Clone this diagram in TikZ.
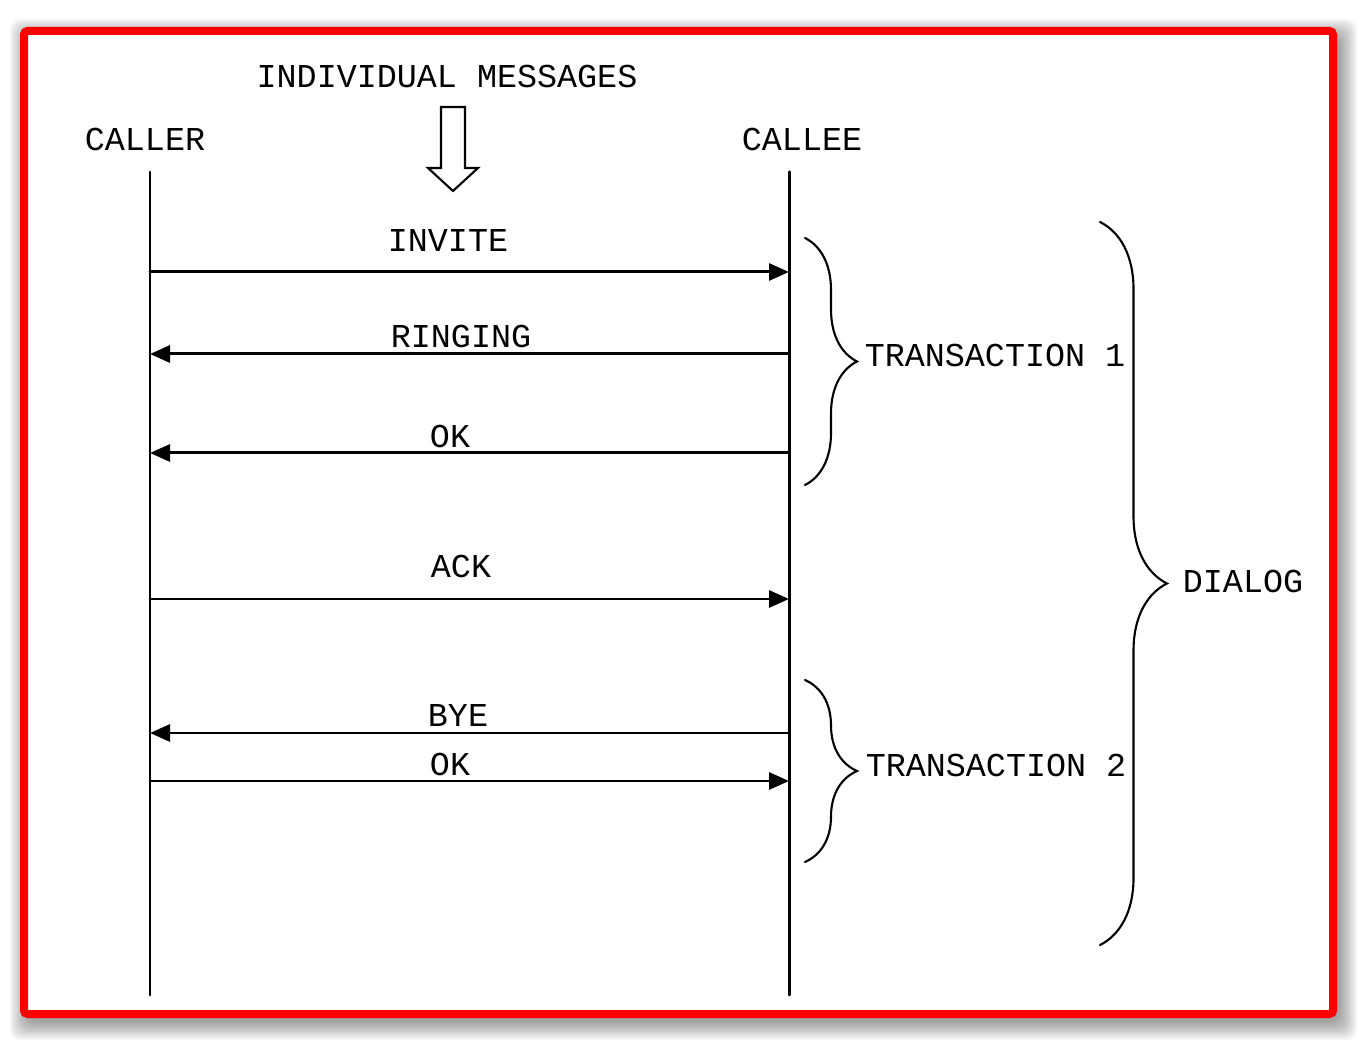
\documentclass[tikz,border=0pt]{standalone}
\usepackage{fontspec}
\setmonofont{Liberation Mono}
\usetikzlibrary{arrows.meta,decorations.pathreplacing}

\begin{document}
\begin{tikzpicture}[>={Triangle[length=2mm,width=1.7mm]},font=\ttfamily\fontsize{9.5}{11}\selectfont,
  line cap=round,
  lifeline/.style={line width=0.85pt},
  msg/.style={->,line width=0.85pt},
  brc/.style={line width=0.6pt,decorate,decoration={brace,amplitude=#1,aspect=0.5}},
  lbl/.style={inner sep=0pt}]
\useasboundingbox (0,0) rectangle (13.66,10.48);
% shadow and frame
\foreach \i in {1,...,16}
  \fill[black,opacity=0.026,rounded corners=3pt] (0.24+0.05-\i*0.012,0.34-0.07-\i*0.012) rectangle (13.33+0.05+\i*0.012,10.17-0.07+\i*0.012);
\fill[white] (0.24,0.34) rectangle (13.33,10.17);
\draw[red,line width=0.08cm,rounded corners=1pt] (0.24,0.34) rectangle (13.33,10.17);

\node[lbl] (msgs) at (4.47,9.71) {INDIVIDUAL MESSAGES};
\draw[line width=0.6pt] (4.41,9.41) -- (4.65,9.41) -- (4.65,8.80) -- (4.78,8.80) -- (4.53,8.57) -- (4.28,8.80) -- (4.41,8.80) -- cycle;

\node[lbl] (caller) at (1.45,9.08) {CALLER};
\node[lbl] (callee) at (8.02,9.08) {CALLEE};
\coordinate (er-top) at (1.50,8.76);
\coordinate (er-bot) at (1.50,0.53);
\coordinate (ee-top) at (7.89,8.76);
\coordinate (ee-bot) at (7.89,0.53);
\draw[lifeline] (er-top) -- (er-bot);
\draw[lifeline] (ee-top) -- (ee-bot);

% messages
\coordinate (er1) at (1.50,7.76); \coordinate (ee1) at (7.89,7.76);
\coordinate (er2) at (1.50,6.94); \coordinate (ee2) at (7.89,6.94);
\coordinate (er3) at (1.50,5.95); \coordinate (ee3) at (7.89,5.95);
\coordinate (er4) at (1.50,4.49); \coordinate (ee4) at (7.89,4.49);
\coordinate (er5) at (1.50,3.15); \coordinate (ee5) at (7.89,3.15);
\coordinate (er6) at (1.50,2.67); \coordinate (ee6) at (7.89,2.67);
\draw[msg] (er1) -- (ee1);
\draw[msg] (ee2) -- (er2);
\draw[msg] (ee3) -- (er3);
\draw[msg] (er4) -- (ee4);
\draw[msg] (ee5) -- (er5);
\draw[msg] (er6) -- (ee6);
\node[lbl] (invite) at (4.48,8.07) {INVITE};
\node[lbl] (ringing) at (4.61,7.11) {RINGING};
\node[lbl] (ok1) at (4.50,6.11) {OK};
\node[lbl] (ack) at (4.61,4.81) {ACK};
\node[lbl] (bye) at (4.58,3.32) {BYE};
\node[lbl] (ok2) at (4.50,2.84) {OK};

% braces
\coordinate (t1-top) at (8.05,8.10);
\coordinate (t1-bot) at (8.05,5.63);
\coordinate (t2-top) at (8.05,3.68);
\coordinate (t2-bot) at (8.05,1.86);
\coordinate (dl-top) at (11.00,8.26);
\coordinate (dl-bot) at (11.00,1.03);
\draw[brc=0.52cm] (t1-top) -- (t1-bot);
\draw[brc=0.52cm] (t2-top) -- (t2-bot);
\draw[brc=0.67cm] (dl-top) -- (dl-bot);
\node[lbl] (trans1) at (9.95,6.92) {TRANSACTION 1};
\node[lbl] (trans2) at (9.96,2.83) {TRANSACTION 2};
\node[lbl] (dialog) at (12.43,4.66) {DIALOG};
\end{tikzpicture}
\end{document}
